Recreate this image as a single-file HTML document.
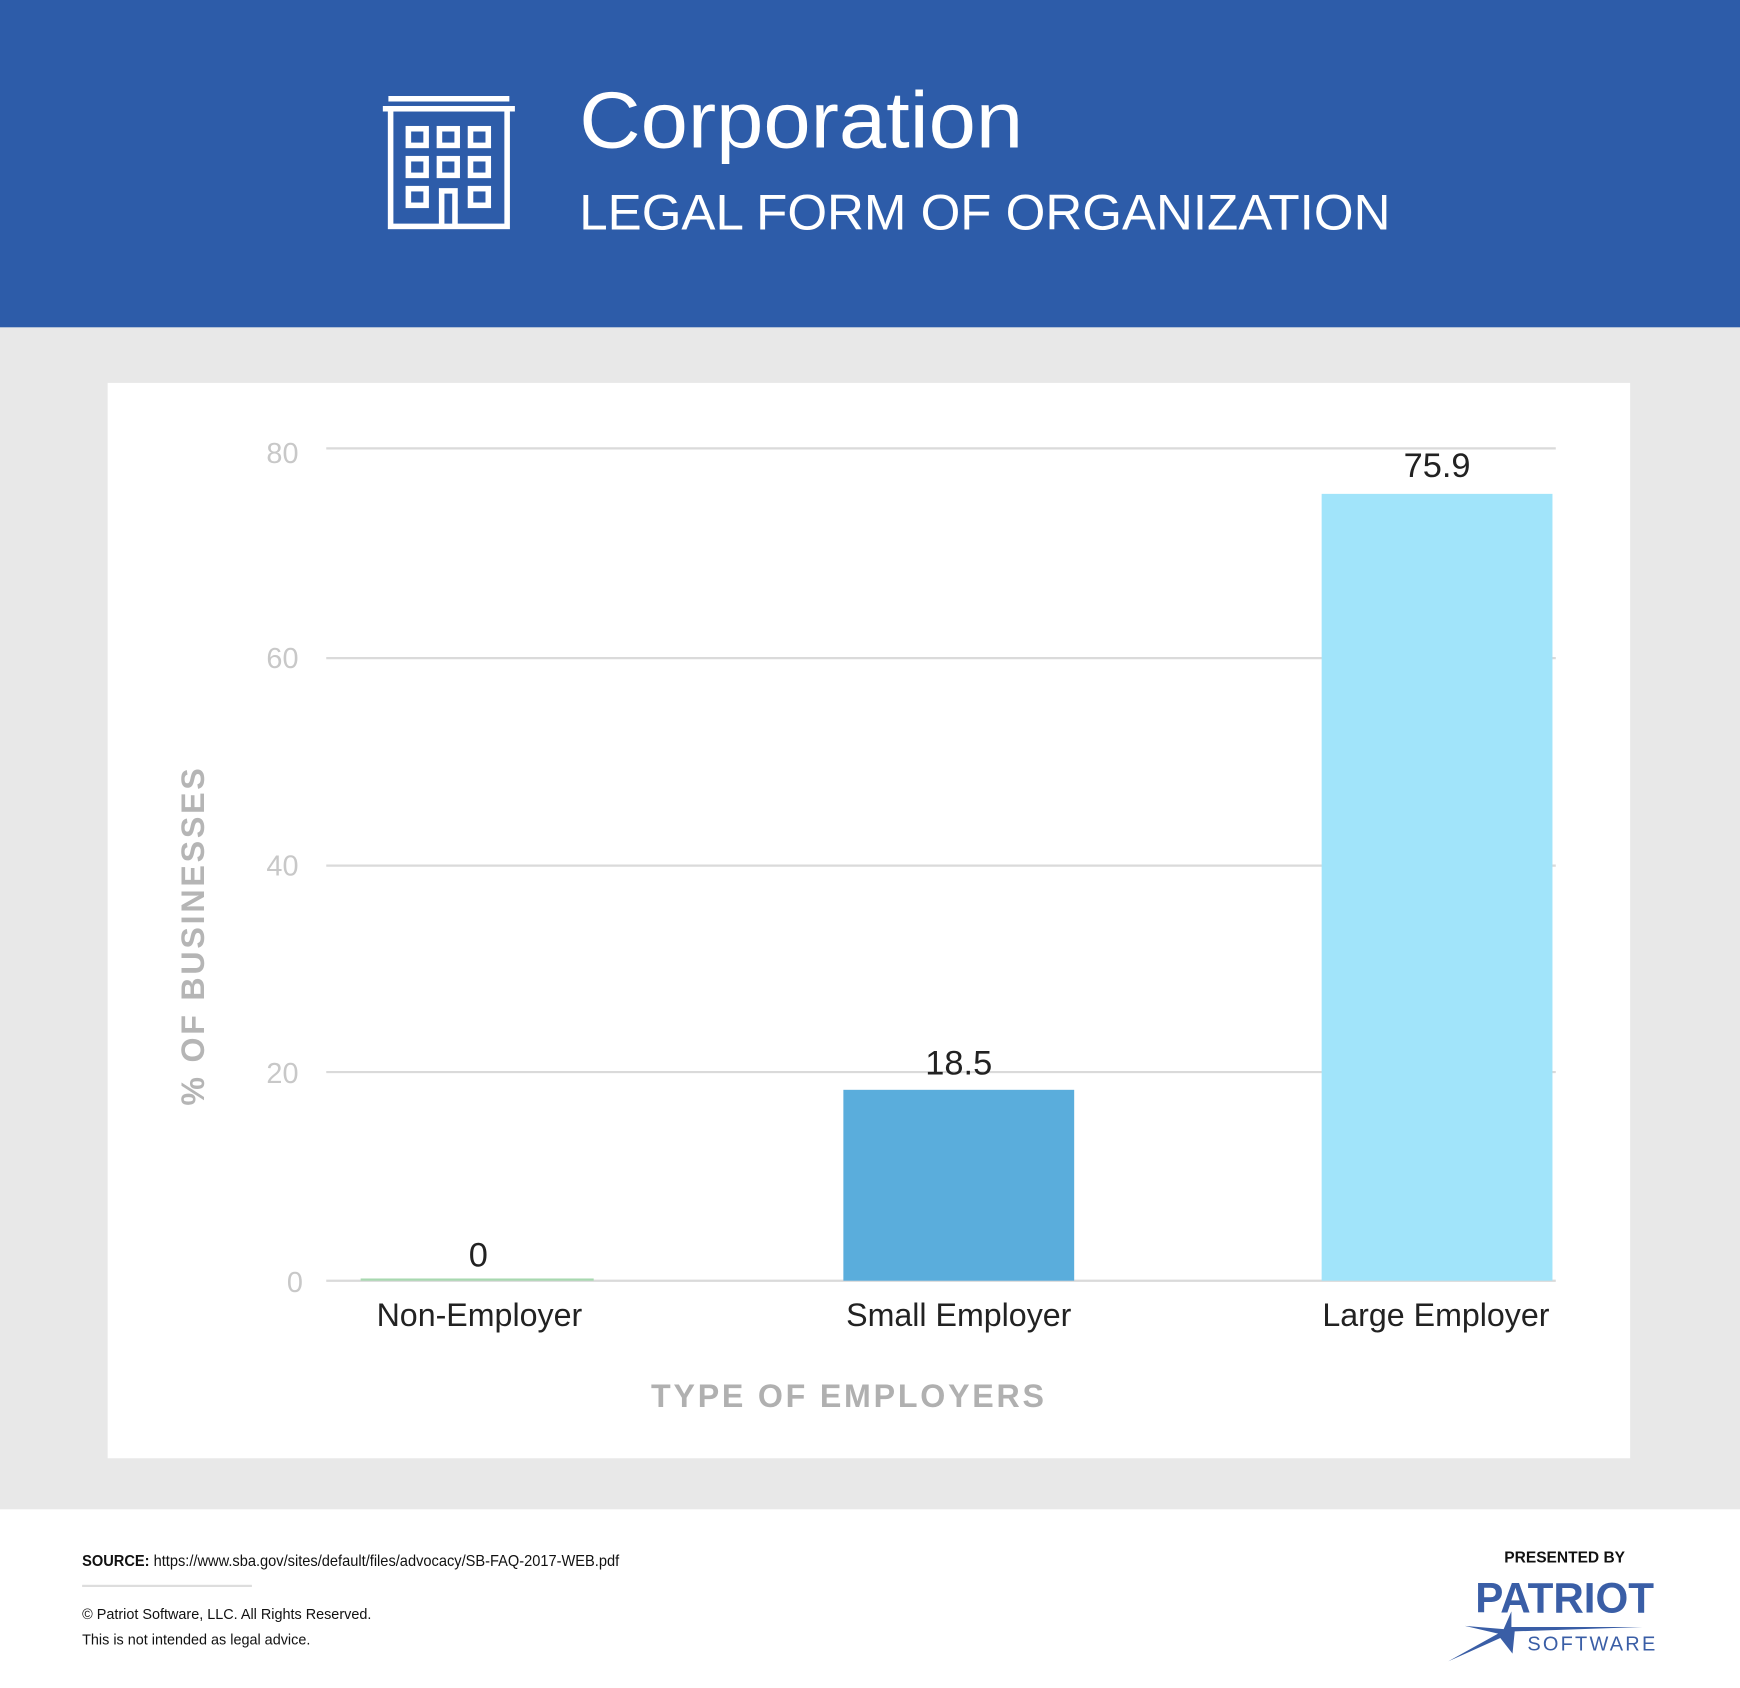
<!DOCTYPE html>
<html><head><meta charset="utf-8"><style>
html,body{margin:0;padding:0;background:#fff}
svg{display:block}
text{font-family:"Liberation Sans",sans-serif}
</style></head><body>
<svg width="1740" height="1688" viewBox="0 0 1568 1521" preserveAspectRatio="none" xmlns="http://www.w3.org/2000/svg">
<rect x="0" y="0" width="1568" height="1521" fill="#fff"/>
<rect x="0" y="0" width="1568" height="295" fill="#2d5ca9"/>
<rect x="0" y="295" width="1568" height="1065" fill="#e8e8e8"/>
<rect x="97" y="345" width="1372" height="969" fill="#fff"/>
<g fill="none" stroke="#fff" stroke-width="5">
<rect x="352" y="98" width="105" height="106"/>
<line x1="345" y1="98" x2="464" y2="98"/>
<line x1="350" y1="89" x2="459" y2="89"/>
<rect x="368" y="116" width="16" height="15"/><rect x="396" y="116" width="16" height="15"/><rect x="424" y="116" width="16" height="15"/>
<rect x="368" y="143" width="16" height="15"/><rect x="396" y="143" width="16" height="15"/><rect x="424" y="143" width="16" height="15"/>
<rect x="368" y="170" width="16" height="15"/><rect x="424" y="170" width="16" height="15"/>
<path d="M398 204 V172 H410 V204"/>
</g>
<text x="522" y="133" fill="#fff" font-size="72" textLength="400" lengthAdjust="spacingAndGlyphs">Corporation</text>
<text x="522" y="207" fill="#fff" font-size="45" textLength="731" lengthAdjust="spacingAndGlyphs">LEGAL FORM OF ORGANIZATION</text>
<g stroke="#dadada" stroke-width="2">
<line x1="294" y1="404" x2="1402" y2="404"/>
<line x1="294" y1="593" x2="1402" y2="593"/>
<line x1="294" y1="780" x2="1402" y2="780"/>
<line x1="294" y1="966" x2="1402" y2="966"/>
<line x1="294" y1="1154" x2="1402" y2="1154"/>
</g>
<g fill="#c8c8c8" font-size="26" text-anchor="end">
<text x="269" y="417">80</text><text x="269" y="602">60</text><text x="269" y="789">40</text><text x="269" y="976">20</text><text x="273" y="1164">0</text>
</g>
<rect x="325" y="1152" width="210" height="2" fill="#a8d8b0"/>
<rect x="760" y="982" width="208" height="172" fill="#5aaddc"/>
<rect x="1191" y="445" width="208" height="709" fill="#a1e4fa"/>
<g fill="#222" font-size="31" text-anchor="middle">
<text x="431" y="1141">0</text><text x="864" y="968">18.5</text><text x="1295" y="430">75.9</text>
</g>
<g fill="#222" font-size="29" text-anchor="middle">
<text x="432" y="1195">Non-Employer</text><text x="864" y="1195">Small Employer</text><text x="1294" y="1195">Large Employer</text>
</g>
<text x="765" y="1268" fill="#b0b0b0" font-size="29" font-weight="bold" letter-spacing="2.5" text-anchor="middle">TYPE OF EMPLOYERS</text>
<text transform="translate(184,843) rotate(-90)" fill="#b5b5b5" font-size="29" font-weight="bold" letter-spacing="2.5" text-anchor="middle">% OF BUSINESSES</text>
<text x="74" y="1411" fill="#111" font-size="14" textLength="484" lengthAdjust="spacingAndGlyphs"><tspan font-weight="bold">SOURCE:</tspan> https://www.sba.gov/sites/default/files/advocacy/SB-FAQ-2017-WEB.pdf</text>
<rect x="74" y="1428" width="153" height="2" fill="#ddd"/>
<text x="74" y="1459" fill="#111" font-size="13">© Patriot Software, LLC. All Rights Reserved.</text>
<text x="74" y="1482" fill="#111" font-size="13">This is not intended as legal advice.</text>
<text x="1410" y="1408" fill="#111" font-size="14" font-weight="bold" text-anchor="middle">PRESENTED BY</text>
<text x="1410" y="1453" fill="#3a5ea6" font-size="38" font-weight="bold" text-anchor="middle">PATRIOT</text>
<text x="1435" y="1487" fill="#3a5ea6" font-size="18" letter-spacing="2" text-anchor="middle">SOFTWARE</text>
<path d="M1305 1497 L1350 1472 L1320 1465 L1355 1468 L1362 1452 L1362 1466 L1480 1466 L1365 1470 L1363 1490 L1352 1476 Z" fill="#3a5ea6"/>
</svg>
</body></html>
